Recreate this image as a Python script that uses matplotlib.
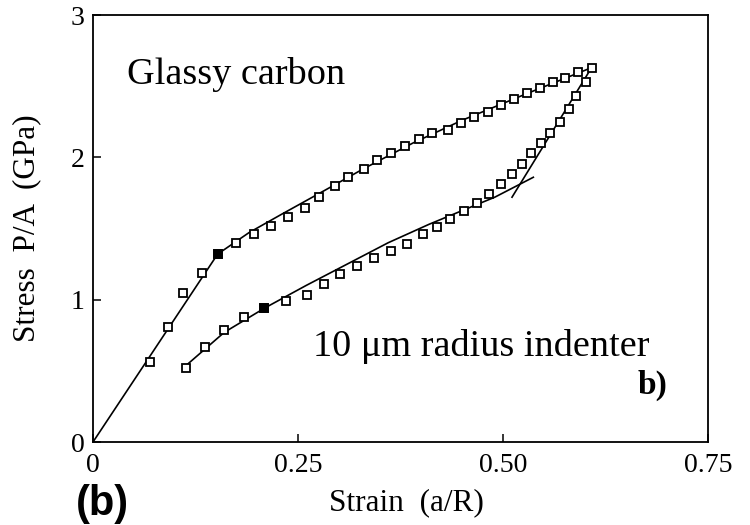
import matplotlib
matplotlib.use("Agg")
import matplotlib.pyplot as plt

# ---- data ----
load_x = [0.070, 0.092, 0.110, 0.133, 0.152, 0.174, 0.196, 0.217, 0.238, 0.258,
          0.276, 0.295, 0.311, 0.330, 0.346, 0.363, 0.380, 0.398, 0.414, 0.433,
          0.449, 0.465, 0.482, 0.497, 0.514, 0.529, 0.545, 0.561, 0.576, 0.592, 0.608]
load_y = [0.56, 0.81, 1.05, 1.19, 1.32, 1.40, 1.46, 1.52, 1.58, 1.645,
          1.72, 1.80, 1.86, 1.915, 1.98, 2.03, 2.08, 2.13, 2.17, 2.19,
          2.24, 2.28, 2.32, 2.37, 2.41, 2.45, 2.49, 2.53, 2.56, 2.60, 2.63]

unload_x = [0.601, 0.589, 0.580, 0.569, 0.557, 0.546, 0.534, 0.523, 0.511, 0.497,
            0.483, 0.468, 0.452, 0.435, 0.419, 0.402, 0.383, 0.363, 0.343, 0.322,
            0.301, 0.282, 0.261, 0.235, 0.209, 0.184, 0.160, 0.137, 0.114]
unload_y = [2.53, 2.43, 2.34, 2.25, 2.17, 2.10, 2.03, 1.95, 1.88, 1.81,
            1.74, 1.68, 1.62, 1.57, 1.51, 1.46, 1.39, 1.345, 1.29, 1.24,
            1.18, 1.11, 1.035, 0.99, 0.94, 0.875, 0.79, 0.67, 0.52]

filled_x = [0.152, 0.209]
filled_y = [1.32, 0.94]

# fitted lines
fit_load_x = [0.0, 0.152, 0.19, 0.23, 0.277, 0.33, 0.39, 0.45, 0.53, 0.608]
fit_load_y = [0.0, 1.32, 1.47, 1.60, 1.75, 1.92, 2.10, 2.26, 2.45, 2.63]

fit_unload_steep_x = [0.608, 0.511]
fit_unload_steep_y = [2.63, 1.72]

fit_unload_x = [0.114, 0.16, 0.209, 0.26, 0.31, 0.36, 0.41, 0.452, 0.49, 0.537]
fit_unload_y = [0.54, 0.77, 0.94, 1.10, 1.25, 1.40, 1.53, 1.63, 1.72, 1.86]

xticks = [0, 0.25, 0.5, 0.75]
xticklabels = ["0", "0.25", "0.50", "0.75"]
yticks = [0, 1, 2, 3]
yticklabels = ["0", "1", "2", "3"]

serif = ["Liberation Serif", "DejaVu Serif"]

fig = plt.figure(figsize=(7.5, 5.25), dpi=100)
ax = fig.add_axes([93 / 750, 1 - 442 / 525, 615 / 750, 427 / 525])

ax.plot(fit_load_x, fit_load_y, color="black", lw=1.2, zorder=2)
ax.plot(fit_unload_steep_x, fit_unload_steep_y, color="black", lw=1.2, zorder=2)
ax.plot(fit_unload_x, fit_unload_y, color="black", lw=1.2, zorder=2)

ax.plot(load_x, load_y, ls="none", marker="s", ms=5.5, mfc="white", mec="black", mew=1.3, zorder=3)
ax.plot(unload_x, unload_y, ls="none", marker="s", ms=5.5, mfc="white", mec="black", mew=1.3, zorder=3)
ax.plot(filled_x, filled_y, ls="none", marker="s", ms=5.5, mfc="black", mec="black", mew=1.3, zorder=4)

ax.set_xlim(0, 0.75)
ax.set_ylim(0, 3)
ax.set_xticks(xticks)
ax.set_xticklabels(xticklabels, fontfamily=serif, fontsize=20)
ax.set_yticks(yticks)
ax.set_yticklabels(yticklabels, fontfamily=serif, fontsize=20)
ax.tick_params(direction="in", length=6, width=1.1, top=False, right=False)
ax.tick_params(axis="x", pad=8)
ax.tick_params(axis="y", pad=6)
for s in ax.spines.values():
    s.set_linewidth(1.3)

ax.text(0.042, 2.58, "Glassy carbon", fontfamily=serif, fontsize=27.5,
        ha="left", va="center")
ax.text(0.268, 0.67, "10 \u03bcm radius indenter", fontfamily=serif, fontsize=27.5,
        ha="left", va="center")
ax.text(0.70, 0.40, "b)", fontfamily=serif, fontsize=24, fontweight="bold",
        ha="right", va="center")

fig.text(27 / 750, 1 - 228 / 525, "Stress  P/A  (GPa)", fontfamily=serif, fontsize=22.5,
         rotation=90, ha="center", va="center")
fig.text(406 / 750, 1 - 503 / 525, "Strain  (a/R)", fontfamily=serif, fontsize=22.5,
         ha="center", va="center")
fig.text(76 / 750, 0.002, "(b)", fontfamily=["Liberation Sans", "DejaVu Sans"],
         fontsize=30, fontweight="bold", ha="left", va="bottom")

fig.savefig("out.png", dpi=100)
